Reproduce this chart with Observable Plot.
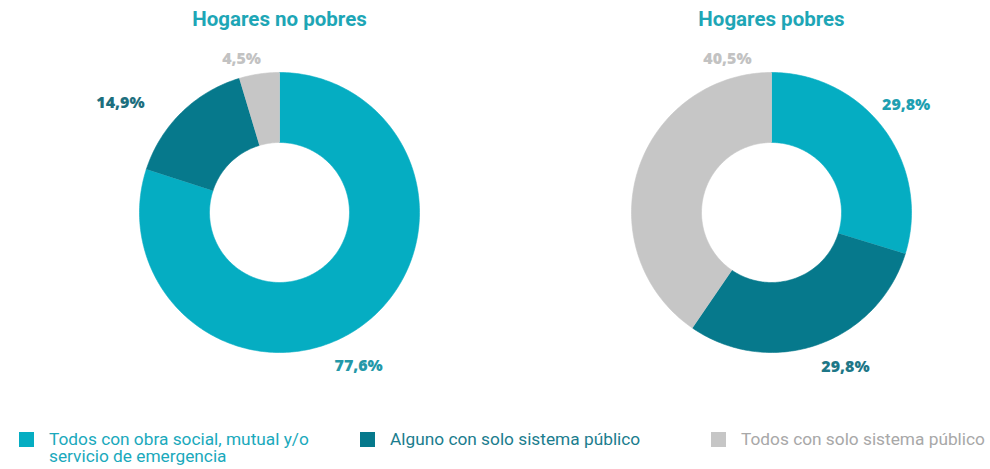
<!DOCTYPE html>
<html>
<head>
<meta charset="utf-8">
<script src="https://cdn.jsdelivr.net/npm/d3@7"></script>
<script src="https://cdn.jsdelivr.net/npm/@observablehq/plot@0.6"></script>
<style>
  html, body { margin: 0; padding: 0; background: #fff; }
  #chart { position: relative; width: 990px; height: 469px; font-family: Roboto, "Noto Sans", sans-serif; }
  #donuts { position: absolute; left: 0; top: 0; display: flex; }
  #legend { position: absolute; left: 0; top: 431px; width: 990px; height: 38px; }
  .item { position: absolute; top: 0; display: flex; align-items: flex-start; font-size: 17.3px; line-height: 17px; }
  .sw { width: 15px; height: 15px; flex: none; margin-right: 15px; margin-top: 1px; }
</style>
</head>
<body>
<div id="chart">
  <div id="donuts"></div>
  <div id="legend"></div>
</div>
<script>
// ---- Data ----
const groups = ["Hogares no pobres", "Hogares pobres"];
const categories = [
  "Todos con obra social, mutual y/o servicio de emergencia",
  "Alguno con solo sistema público",
  "Todos con solo sistema público"
];
const noPobresValues = [77.6, 14.9, 4.5];
const pobresValues = [29.8, 29.8, 40.5];

// ---- Style / layout ----
const sliceColors = ["#05adc2", "#06798c", "#c6c6c6"];
const labelColors = [["#2398a8", "#1d6f7e", "#c2c2c2"], ["#1f9fb1", "#1e7787", "#c2c2c2"]];
const legendTextColors = ["#1aa9bc", "#1b7d8e", "#a8a8a8"];
const titleColor = "#1ea6b6";
const innerRatio = 0.5;
// label placement: fraction along slice arc, radius relative to outer radius
const labelAlong = [[0.53, 0.30, 0.17], [0.48, 0.44, 0.89]];
const labelRadius = [[1.23, 1.38, 1.13], [1.23, 1.22, 1.14]];
const plotW = 495, plotH = 400, outerPx = 140, cyPx = 212;
const centersPx = [279, 771 - 495];
const legendLeft = [19, 360, 711];

const fmt = v => v.toFixed(1).replace(".", ",") + "%";
const TAU = 2 * Math.PI;

function donut(gi) {
  const vals = gi === 0 ? noPobresValues : pobresValues;
  const total = d3.sum(vals);
  let acc = 0;
  const slices = vals.map((v, i) => {
    const a0 = acc / total * TAU; acc += v; const a1 = acc / total * TAU;
    return {cat: categories[i], value: v, a0, a1, i};
  });
  const pts = slices.flatMap(s => {
    const n = Math.max(6, Math.ceil((s.a1 - s.a0) / TAU * 360));
    const out = [];
    for (let k = 0; k <= n; k++) {
      const a = s.a0 + (s.a1 - s.a0) * k / n;
      out.push({cat: s.cat, x: Math.sin(a), y: Math.cos(a)});
    }
    for (let k = n; k >= 0; k--) {
      const a = s.a0 + (s.a1 - s.a0) * k / n;
      out.push({cat: s.cat, x: innerRatio * Math.sin(a), y: innerRatio * Math.cos(a)});
    }
    return out;
  });
  const labels = slices.map(s => {
    const a = s.a0 + (s.a1 - s.a0) * labelAlong[gi][s.i];
    const r = labelRadius[gi][s.i];
    return {x: r * Math.sin(a), y: r * Math.cos(a), text: fmt(s.value), color: labelColors[gi][s.i]};
  });
  const cx = centersPx[gi];
  return Plot.plot({
    width: plotW, height: plotH, margin: 0,
    x: {domain: [-1, 1], range: [cx - outerPx, cx + outerPx], axis: null},
    y: {domain: [-1, 1], range: [cyPx + outerPx, cyPx - outerPx], axis: null},
    color: {domain: categories, range: sliceColors},
    style: {fontFamily: "Roboto, 'Noto Sans', sans-serif", background: "white"},
    marks: [
      Plot.line(pts, {x: "x", y: "y", z: "cat", fill: "cat", stroke: "cat", strokeWidth: 0.6, curve: "linear"}),
      ...labels.map(l => Plot.text([l], {x: "x", y: "y", text: "text", fill: l.color, fontSize: 16, fontWeight: 800, fontFamily: "'Open Sans', Roboto, sans-serif", lineAnchor: "middle"})),
      Plot.text([groups[gi]], {x: () => 0, frameAnchor: "top", dy: 19, text: d => d, fill: titleColor, fontSize: 20.5, fontWeight: 700, lineAnchor: "middle"})
    ]
  });
}

const donutsDiv = document.getElementById("donuts");
groups.forEach((g, gi) => donutsDiv.appendChild(donut(gi)));

const legend = document.getElementById("legend");
categories.forEach((c, i) => {
  const item = document.createElement("div");
  item.className = "item";
  item.style.left = legendLeft[i] + "px";
  item.style.color = legendTextColors[i];
  const sw = document.createElement("div");
  sw.className = "sw";
  sw.style.background = sliceColors[i];
  const tx = document.createElement("div");
  tx.textContent = c;
  if (i === 0) tx.style.maxWidth = "285px";
  item.appendChild(sw); item.appendChild(tx);
  legend.appendChild(item);
});
</script>
</body>
</html>
